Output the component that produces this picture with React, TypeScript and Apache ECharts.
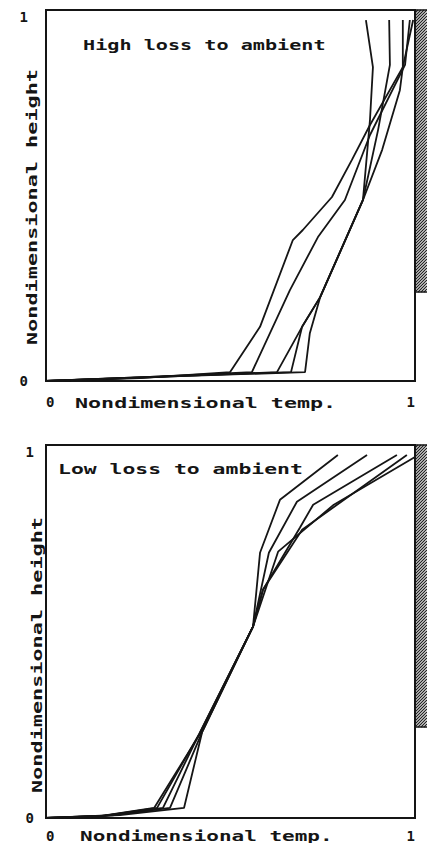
import React, { useEffect, useRef } from "react";
import * as echarts from "echarts";

// ---------- data ----------
const axisTicks = [0, 1];
const highLossTitle = "High loss to ambient";
const lowLossTitle = "Low loss to ambient";
const xAxisName = "Nondimensional temp.";
const yAxisName = "Nondimensional height";

// High loss to ambient: [temperature, height]
const high1 = [[0, 0], [0.255, 0.008], [0.499, 0.024], [0.58, 0.146], [0.669, 0.38], [0.696, 0.407], [0.775, 0.496], [0.829, 0.596], [0.878, 0.69], [0.967, 0.846], [0.995, 0.973]];
const high2 = [[0, 0], [0.282, 0.011], [0.558, 0.024], [0.661, 0.245], [0.737, 0.388], [0.81, 0.488], [0.878, 0.663], [0.973, 0.852], [0.986, 0.973]];
const high3 = [[0, 0], [0.309, 0.011], [0.626, 0.024], [0.694, 0.146], [0.743, 0.226], [0.859, 0.488], [0.911, 0.623], [0.959, 0.784], [0.967, 0.846], [0.967, 0.973]];
const high4 = [[0, 0], [0.336, 0.013], [0.664, 0.024], [0.694, 0.146], [0.743, 0.226], [0.859, 0.488], [0.9, 0.677], [0.932, 0.852], [0.93, 0.973]];
const high5 = [[0, 0], [0.363, 0.013], [0.702, 0.024], [0.715, 0.129], [0.743, 0.226], [0.859, 0.488], [0.878, 0.704], [0.886, 0.846], [0.867, 0.973]];

// Low loss to ambient: [temperature, height]
const low1 = [[0, 0], [0.146, 0.005], [0.293, 0.027], [0.417, 0.225], [0.561, 0.513], [0.58, 0.711], [0.634, 0.853], [0.791, 0.973]];
const low2 = [[0, 0], [0.15, 0.005], [0.301, 0.027], [0.415, 0.225], [0.561, 0.513], [0.604, 0.711], [0.68, 0.848], [0.87, 0.973]];
const low3 = [[0, 0], [0.16, 0.006], [0.317, 0.027], [0.412, 0.219], [0.561, 0.513], [0.588, 0.612], [0.688, 0.778], [0.724, 0.84], [0.951, 0.973]];
const low4 = [[0, 0], [0.18, 0.007], [0.336, 0.027], [0.423, 0.23], [0.561, 0.513], [0.588, 0.612], [0.694, 0.773], [0.978, 0.973]];
const low5 = [[0, 0], [0.2, 0.008], [0.374, 0.027], [0.423, 0.23], [0.561, 0.513], [0.629, 0.714], [0.78, 0.84], [1.0, 0.968]];

const highSeries = [high1, high2, high3, high4, high5];
const lowSeries = [low1, low2, low3, low4, low5];

// ---------- layout / style ----------
const W = 427;
const H = 843;
const INK = "#151515";
const FONT = "DejaVu Sans Mono";

const grids = [
  { left: 46, top: 10, width: 369, height: 371 },
  { left: 46, top: 445, width: 369, height: 374 },
];

function monoText(text: string, x: number, y: number, opts: any = {}) {
  return {
    type: "text",
    x,
    y,
    rotation: opts.rotation || 0,
    scaleX: opts.scaleX || 1.5,
    silent: true,
    style: {
      text,
      fill: INK,
      font: `bold ${opts.size || 14}px "${FONT}"`,
      align: opts.align || "left",
      verticalAlign: "middle",
    },
  };
}

function hatch(x0: number, top: number, bottom: number, w: number) {
  const children: any[] = [];
  const step = 3;
  for (let y0 = top; y0 <= bottom + w; y0 += step) {
    const t1 = Math.max(0, y0 - bottom);
    const t2 = Math.min(w, y0 - top);
    if (t2 > t1) {
      children.push({
        type: "line",
        shape: { x1: x0 + t1, y1: y0 - t1, x2: x0 + t2, y2: y0 - t2 },
        style: { stroke: "#222", lineWidth: 1.2 },
      });
    }
  }
  children.push({
    type: "rect",
    shape: { x: x0, y: top, width: w + 4, height: bottom - top },
    style: { fill: "none", stroke: INK, lineWidth: 1.5 },
  });
  return { type: "group", silent: true, children };
}

export default function App() {
  const ref = useRef<HTMLDivElement>(null);

  useEffect(() => {
    if (!ref.current) return;
    const chart = echarts.init(ref.current, null, { renderer: "svg" });

    const makeX = (gi: number, margin: number) => ({
      type: "value",
      gridIndex: gi,
      min: axisTicks[0],
      max: axisTicks[1],
      interval: 1,
      axisLine: { show: false },
      axisTick: { show: false },
      splitLine: { show: false },
      axisLabel: {
        margin,
        color: INK,
        fontFamily: FONT,
        fontWeight: "bold",
        fontSize: 14,
        alignMinLabel: "left",
        alignMaxLabel: "right",
      },
    });
    const makeY = (gi: number, margin: number) => ({
      type: "value",
      gridIndex: gi,
      min: axisTicks[0],
      max: axisTicks[1],
      interval: 1,
      axisLine: { show: false },
      axisTick: { show: false },
      splitLine: { show: false },
      axisLabel: {
        margin,
        color: INK,
        fontFamily: FONT,
        fontWeight: "bold",
        fontSize: 14,
        verticalAlignMaxLabel: "top",
        verticalAlignMinLabel: "middle",
      },
    });

    const lineSeries = (data: number[][], gi: number) => ({
      type: "line",
      xAxisIndex: gi,
      yAxisIndex: gi,
      data,
      showSymbol: false,
      symbol: "none",
      silent: true,
      lineStyle: { color: INK, width: 1.8 },
      clip: false,
    });

    chart.setOption({
      animation: false,
      backgroundColor: "#ffffff",
      grid: grids.map((g) => ({
        ...g,
        show: true,
        borderColor: INK,
        borderWidth: 2,
        backgroundColor: "transparent",
      })),
      xAxis: [makeX(0, 14), makeX(1, 11)],
      yAxis: [makeY(0, 18), makeY(1, 12)],
      series: [
        ...highSeries.map((d) => lineSeries(d, 0)),
        ...lowSeries.map((d) => lineSeries(d, 1)),
      ],
      graphic: [
        hatch(415, 10, 292, 12),
        hatch(415, 445, 727, 12),
        monoText(highLossTitle, 83, 45, { scaleX: 1.44 }),
        monoText(lowLossTitle, 58, 469, { scaleX: 1.53 }),
        monoText(xAxisName, 75, 403, { scaleX: 1.55 }),
        monoText(xAxisName, 80, 836, { scaleX: 1.5 }),
        monoText(yAxisName, 32, 207, { rotation: Math.PI / 2, align: "center", scaleX: 1.56 }),
        monoText(yAxisName, 37, 655, { rotation: Math.PI / 2, align: "center", scaleX: 1.56 }),
      ],
    });

    return () => chart.dispose();
  }, []);

  return (
    <div
      ref={ref}
      style={{ position: "fixed", left: 0, top: 0, width: W, height: H, background: "#fff" }}
    />
  );
}
